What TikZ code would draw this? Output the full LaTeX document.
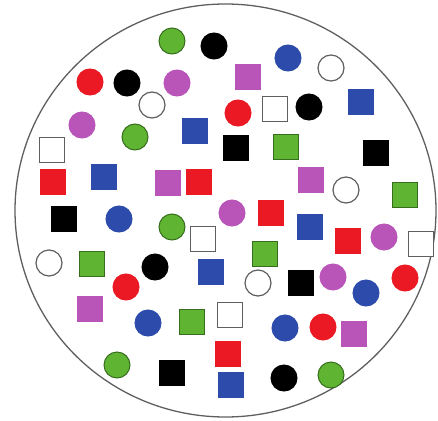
\documentclass[tikz,border=0pt]{standalone}
\usetikzlibrary{positioning}
\definecolor{mygreen}{RGB}{95,180,50}
\definecolor{mygreenline}{RGB}{55,110,30}
\definecolor{myred}{RGB}{235,25,35}
\definecolor{myblue}{RGB}{45,75,170}
\definecolor{mypurple}{RGB}{185,85,185}
\definecolor{mygray}{RGB}{95,95,95}
\pgfmathsetmacro{\myr}{13}
\pgfmathsetmacro{\mya}{12.5}

\begin{document}
\begin{tikzpicture}[x=1pt, y=-1pt, line width=1pt,
    piece/.style={fill=#1, draw=#1},
    greenpiece/.style={fill=mygreen, draw=mygreenline},
    whitepiece/.style={fill=white, draw=mygray, line width=1.2pt}]

\useasboundingbox (0,0) rectangle (438,420);
\draw[mygray, line width=1.3pt] (225.5,210.5) ellipse[x radius=210.5, y radius=206.5];

% green
\foreach \x/\y in {172/41, 135/137, 172/227, 117/365, 331/375}
    \filldraw[greenpiece] (\x,\y) circle[radius=\myr];
\foreach \x/\y in {286/147, 405/195, 92/264, 265/254, 192/322}
    \filldraw[greenpiece] (\x-\mya,\y-\mya) rectangle (\x+\mya,\y+\mya);
% black
\foreach \x/\y in {214/46, 127/83, 309/107, 155/267, 284/378}
    \filldraw[piece=black] (\x,\y) circle[radius=\myr];
\foreach \x/\y in {236/148, 376/153, 64/219, 301/283, 172/373}
    \filldraw[piece=black] (\x-\mya,\y-\mya) rectangle (\x+\mya,\y+\mya);
% blue
\foreach \x/\y in {288/58, 119/219, 366/293, 148/323, 285/328}
    \filldraw[piece=myblue] (\x,\y) circle[radius=\myr];
\foreach \x/\y in {361/102, 195/131, 104/177, 310/227, 211/272, 231/385}
    \filldraw[piece=myblue] (\x-\mya,\y-\mya) rectangle (\x+\mya,\y+\mya);
% red
\foreach \x/\y in {90/82, 238/113, 126/287, 405/278, 323/327}
    \filldraw[piece=myred] (\x,\y) circle[radius=\myr];
\foreach \x/\y in {53/182, 199/182, 271/213, 348/241, 228/354}
    \filldraw[piece=myred] (\x-\mya,\y-\mya) rectangle (\x+\mya,\y+\mya);
% purple
\foreach \x/\y in {177/83, 82/125, 232/213, 384/237, 333/277}
    \filldraw[piece=mypurple] (\x,\y) circle[radius=\myr];
\foreach \x/\y in {248/77, 168/183, 311/180, 90/309, 354/334}
    \filldraw[piece=mypurple] (\x-\mya,\y-\mya) rectangle (\x+\mya,\y+\mya);
% white
\foreach \x/\y in {331/68, 152/105, 346/190, 49/263, 258/283}
    \filldraw[whitepiece] (\x,\y) circle[radius=\myr];
\foreach \x/\y in {275/109, 52/150, 203/239, 421/244, 230/315}
    \filldraw[whitepiece] (\x-\mya,\y-\mya) rectangle (\x+\mya,\y+\mya);
\end{tikzpicture}
\end{document}
